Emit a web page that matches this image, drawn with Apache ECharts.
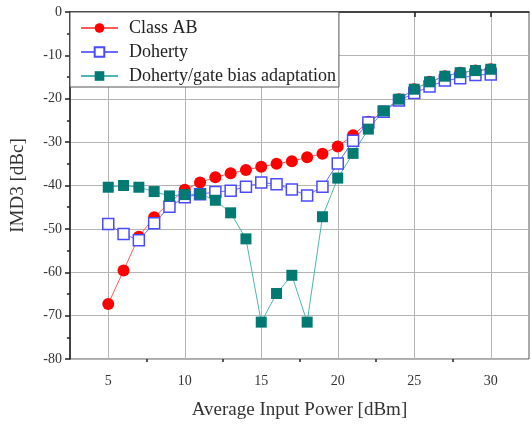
<!DOCTYPE html>
<html>
<head>
<meta charset="utf-8">
<script src="https://cdn.jsdelivr.net/npm/echarts@6/dist/echarts.min.js"></script>
<style>html,body{margin:0;padding:0;background:#fff;}#c{width:531px;height:429px;}</style>
</head>
<body>
<div id="c"></div>
<script>
const inputPower = [5,6,7,8,9,10,11,12,13,14,15,16,17,18,19,20,21,22,23,24,25,26,27,28,29,30];
const classAB = [-67.3,-59.6,-51.8,-47.3,-44.0,-41.0,-39.3,-38.1,-37.2,-36.4,-35.7,-35.0,-34.4,-33.5,-32.7,-31.0,-28.4,-25.3,-23.0,-20.1,-17.8,-16.1,-14.8,-14.0,-13.5,-13.2];
const doherty = [-48.9,-51.2,-52.6,-48.7,-44.9,-42.7,-42.0,-41.5,-41.2,-40.3,-39.3,-39.7,-40.9,-42.3,-40.3,-34.9,-29.7,-25.5,-23.0,-20.4,-18.7,-17.2,-15.8,-15.3,-14.5,-14.4];
const dohertyGate = [-40.4,-40.0,-40.4,-41.4,-42.4,-42.1,-42.0,-43.4,-46.3,-52.3,-71.5,-64.9,-60.7,-71.5,-47.2,-38.3,-32.6,-27.0,-22.8,-20.1,-17.8,-16.1,-14.8,-14.0,-13.5,-13.2];
const xMajorTicks = [5,10,15,20,25,30];
const xMinorTicks = [7.5,12.5,17.5,22.5,27.5];

const font = 'Liberation Serif';
const pair = (ys) => inputPower.map((x, i) => [x, ys[i]]);

const chart = echarts.init(document.getElementById('c'), null, {renderer: 'canvas'});
chart.setOption({
  animation: false,
  backgroundColor: '#fff',
  grid: {left: 70, right: 2, top: 12, bottom: 70, show: true, borderColor: '#555', borderWidth: 1, backgroundColor: 'transparent'},
  legend: {
    orient: 'vertical', left: 70, top: 12,
    padding: [7, 3, 2, 10],
    itemGap: 6, itemWidth: 37, itemHeight: 12,
    backgroundColor: '#fff', borderColor: '#555', borderWidth: 1, borderRadius: 0,
    textStyle: {fontFamily: font, fontSize: 18, color: '#222', padding: [0, 0, 0, 6]},
    data: ['Class AB', 'Doherty', 'Doherty/gate bias adaptation']
  },
  xAxis: [{
    type: 'value', min: 2.5, max: 32.5,
    name: 'Average Input Power [dBm]', nameLocation: 'middle', nameGap: 42,
    nameTextStyle: {fontFamily: font, fontSize: 19, color: '#333'},
    axisLine: {lineStyle: {color: '#222', width: 1.5}},
    axisTick: {show: true, length: 5, customValues: xMajorTicks, lineStyle: {color: '#222', width: 1.5}},
    axisLabel: {fontFamily: font, fontSize: 14, color: '#333', margin: 15, customValues: xMajorTicks},
    splitLine: {show: true, lineStyle: {color: '#b4b4b4', width: 1}}
  }, {
    type: 'value', min: 2.5, max: 32.5, position: 'bottom',
    axisLine: {show: false},
    axisTick: {show: true, length: 3, customValues: xMinorTicks, lineStyle: {color: '#222', width: 1.5}},
    axisLabel: {show: false},
    splitLine: {show: false}
  }],
  yAxis: {
    type: 'value', min: -80, max: 0, interval: 10,
    name: 'IMD3 [dBc]', nameLocation: 'middle', nameGap: 42,
    nameTextStyle: {fontFamily: font, fontSize: 19, color: '#333'},
    axisLine: {show: true, lineStyle: {color: '#222', width: 1.5}},
    axisTick: {show: true, length: 5, lineStyle: {color: '#222', width: 1.5}},
    minorTick: {show: true, splitNumber: 2, length: 3, lineStyle: {color: '#222', width: 1.5}},
    axisLabel: {fontFamily: font, fontSize: 14, color: '#333', margin: 8},
    splitLine: {show: true, lineStyle: {color: '#b4b4b4', width: 1}}
  },
  series: [{
    name: 'Class AB', type: 'line', data: pair(classAB),
    symbol: 'circle', symbolSize: 12,
    itemStyle: {color: '#ff0000'},
    lineStyle: {color: '#ff5a5a', width: 1}
  }, {
    name: 'Doherty', type: 'line', data: pair(doherty),
    symbol: 'rect', symbolSize: 11,
    itemStyle: {color: '#ffffff', borderColor: '#4a4aff', borderWidth: 1.5},
    lineStyle: {color: '#6a6aff', width: 1}
  }, {
    name: 'Doherty/gate bias adaptation', type: 'line', data: pair(dohertyGate),
    symbol: 'rect', symbolSize: 11,
    itemStyle: {color: '#007a72'},
    lineStyle: {color: '#4fb5b0', width: 1}
  }]
});
</script>
</body>
</html>
